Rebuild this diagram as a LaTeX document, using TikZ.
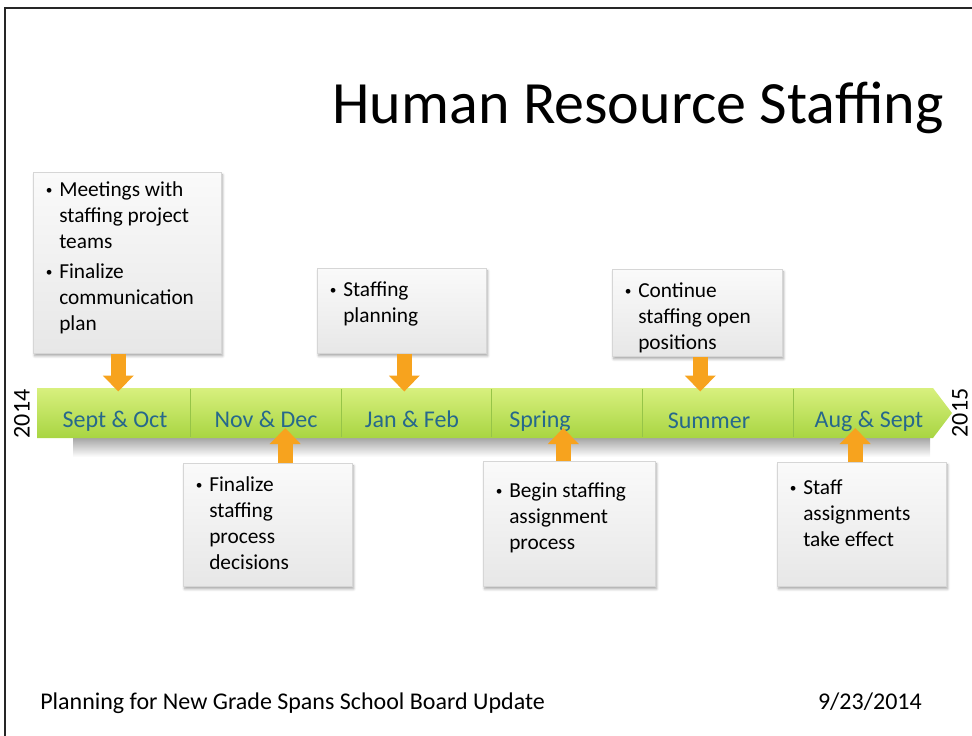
\documentclass[tikz,border=0pt]{standalone}
\usepackage{fontspec}
\setmainfont{Carlito}
\usetikzlibrary{shapes,arrows.meta,positioning,shadows.blur}

\definecolor{barTop}{RGB}{216,240,126}
\definecolor{barBottom}{RGB}{168,213,66}
\definecolor{barLine}{RGB}{150,196,72}
\definecolor{monthText}{RGB}{38,104,140}
\definecolor{markerOrange}{RGB}{247,163,30}

\newcommand{\hritem}[1]{\par\hangindent=9pt\hangafter=1\noindent\hspace*{-1pt}\makebox[10pt][l]{\raisebox{1.2pt}{\fontsize{10}{10}\selectfont\textbullet}}\strut#1\par}
\newcommand{\callbody}[4]{\parbox[c][#1][t]{#2}{\fontsize{16}{19.5}\selectfont\setlength{\parskip}{3pt}\vspace*{#3}#4}}

\begin{document}
\begin{tikzpicture}[x=0.75pt,y=-0.75pt]
    \tikzset{
        callout/.style = {rectangle, anchor=north west, draw={rgb,255:red,214;green,214;blue,214}, top color={rgb,255:red,250;green,250;blue,250}, bottom color={rgb,255:red,231;green,231;blue,231}, inner xsep=10.5pt, inner ysep=0pt, blur shadow={shadow xshift=1pt, shadow yshift=-2pt, shadow blur steps=6, shadow opacity=35}},
        marker/.style = {draw=markerOrange, line width=11.25pt, -{Triangle[width=22.5pt,length=12pt]}},
        month/.style = {anchor=base, text=monthText, font=\fontsize{18}{22}\selectfont},
        year/.style = {rotate=90, inner sep=0pt, font=\fontsize{18}{22}\selectfont},
        divider/.style = {draw=barLine, thin},
    }

    \useasboundingbox (0,0) rectangle (972,736);
    \draw[line width=1.5pt, black!85] (5,736) -- (5,8) -- (972,8);

    \node[anchor=base](title) at (638,123){\fontsize{45}{54}\selectfont Human Resource Staffing};

    \shade[top color=black!35, bottom color=white] (73,438) rectangle (930,457);
    \shade[top color=barTop, bottom color=barBottom] (37,388) -- (933,388) -- (952,413) -- (933,438) -- (37,438) -- cycle;
    \foreach \x in {190,341,491,642,793}
        \path[divider] (\x,389) -- (\x,437);

    \node[month](sepoct) at (115,427){Sept \& Oct};
    \node[month](novdec) at (266,427){Nov \& Dec};
    \node[month](janfeb) at (412,427){Jan \& Feb};
    \node[month](spring) at (540,427){Spring};
    \node[month](summer) at (709,428){Summer};
    \node[month](augsep) at (869,427){Aug \& Sept};

    \node[year](start) at (22,414){2014};
    \node[year](end) at (960,413){2015};

    \node[callout](meetings) at (33,172){\callbody{135.75pt}{120pt}{1.35pt}{\hritem{Meetings with\\staffing project\\teams}\hritem{Finalize\\communication\\plan}}};
    \node[callout](decisions) at (183,463){\callbody{92.25pt}{105.75pt}{4.35pt}{\hritem{Finalize\\staffing\\process\\decisions}}};
    \node[callout](planning) at (317,268){\callbody{63.75pt}{105.75pt}{4.35pt}{\hritem{Staffing\\planning}}};
    \node[callout](assignment) at (483,461){\callbody{93.75pt}{108pt}{10.35pt}{\hritem{Begin staffing\\assignment\\process}}};
    \node[callout](positions) at (612,269){\callbody{65.25pt}{106.5pt}{4.35pt}{\hritem{Continue\\staffing open\\positions}}};
    \node[callout](effect) at (777,462){\callbody{93pt}{105.75pt}{7.35pt}{\hritem{Staff\\assignments\\take effect}}};

    \path [marker] ([xshift=-6.75pt]meetings.south) -- ++(0,38);
    \path [marker] ([xshift=13.1pt]decisions.north) -- ++(0,-35);
    \path [marker] ([xshift=1.9pt]planning.south) -- ++(0,38);
    \path [marker] ([xshift=-4.5pt]assignment.north) -- ++(0,-33);
    \path [marker] ([xshift=2.25pt]positions.south) -- ++(0,35);
    \path [marker] ([xshift=-4.9pt]effect.north) -- ++(0,-34);

    \node[anchor=base west, inner sep=0pt](footer) at (40,709){\fontsize{18}{22}\selectfont Planning for New Grade Spans School Board Update};
    \node[anchor=base east, inner sep=0pt](date) at (922,709){\fontsize{18}{22}\selectfont 9/23/2014};
\end{tikzpicture}
\end{document}
